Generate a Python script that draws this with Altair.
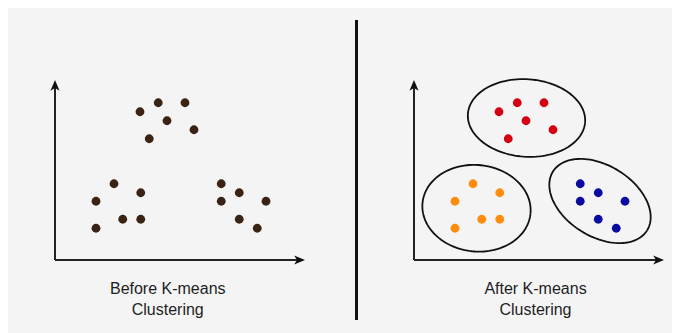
import altair as alt
import numpy as np
import pandas as pd

# ---- data (axis units: origin of each panel's axes at 0,0) ----
pt_x = [3.40, 4.13, 5.20, 4.48, 5.56, 3.77,
        2.36, 3.43, 1.64, 2.71, 3.43, 1.64,
        6.65, 7.37, 6.65, 8.44, 7.37, 8.09]
pt_y = [5.93, 6.29, 6.29, 5.57, 5.21, 4.85,
        3.05, 2.69, 2.35, 1.63, 1.63, 1.27,
        3.05, 2.69, 2.35, 2.35, 1.63, 1.27]
pt_cluster = ["top"] * 6 + ["left"] * 6 + ["right"] * 6

panels = ["before", "after"]
panel_offset = [0.0, 14.36]
panel_titles = ["Before K-means\nClustering", "After K-means\nClustering"]
title_x = [4.51, 4.86]
title_y = [-1.36, -1.36]

axis_x_len = 10.0
axis_y_len = 7.2

ell_cluster = ["top", "left", "right"]
ell_cx = [4.50, 2.50, 7.44]
ell_cy = [5.68, 2.07, 2.36]
ell_rx = [2.35, 2.17, 2.22]
ell_ry = [1.55, 1.73, 1.42]
ell_angle = [-4.0, -6.0, -32.0]

divider_x = 12.06
divider_y = [9.6, -2.4]

color_domain = ["before", "top", "left", "right"]
color_range = ["#3a2312", "#d40012", "#ff8c0c", "#0a0aa2"]

# ---- tables ----
rows = []
for p, off in zip(panels, panel_offset):
    for x, y, c in zip(pt_x, pt_y, pt_cluster):
        rows.append({"x": x + off, "y": y, "grp": "before" if p == "before" else c})
points = pd.DataFrame(rows)

axes_rows = []
heads = []
for off in panel_offset:
    axes_rows.append({"x": off, "y": 0.0, "x2": off + axis_x_len - 0.3, "y2": 0.0})
    axes_rows.append({"x": off, "y": 0.0, "x2": off, "y2": axis_y_len - 0.3})
    heads.append({"x": off + axis_x_len, "y": 0.0, "dir": "right"})
    heads.append({"x": off, "y": axis_y_len, "dir": "up"})
axes_df = pd.DataFrame(axes_rows)
heads_df = pd.DataFrame(heads)

t = np.linspace(0, 2 * np.pi, 121)
erows = []
off = panel_offset[1]
for c, cx, cy, rx, ry, ang in zip(ell_cluster, ell_cx, ell_cy, ell_rx, ell_ry, ell_angle):
    a = np.deg2rad(ang)
    for i, tt in enumerate(t):
        ex = rx * np.cos(tt)
        ey = ry * np.sin(tt)
        erows.append({"id": c, "i": i,
                      "x": off + cx + ex * np.cos(a) - ey * np.sin(a),
                      "y": cy + ex * np.sin(a) + ey * np.cos(a)})
ell_df = pd.DataFrame(erows)

titles_df = pd.DataFrame({"x": [tx + o for tx, o in zip(title_x, panel_offset)],
                          "y": title_y, "t": panel_titles})
div_df = pd.DataFrame({"x": [divider_x], "y": [divider_y[0]], "y2": [divider_y[1]]})

W, H = 664, 325
xs = alt.Scale(domain=[-1.88, 24.68], nice=False, zero=False)
ys = alt.Scale(domain=[-2.92, 10.08], nice=False, zero=False)
X = lambda f="x": alt.X(f"{f}:Q", scale=xs, axis=None)
Y = lambda f="y": alt.Y(f"{f}:Q", scale=ys, axis=None)

axes_layer = alt.Chart(axes_df).mark_rule(color="#222222", strokeWidth=2).encode(
    x=X(), y=Y(), x2="x2:Q", y2="y2:Q")

up_path = "M0,0 L0.8,1.9 L0,1.4 L-0.8,1.9 Z"
right_path = "M0,0 L-1.9,-0.8 L-1.4,0 L-1.9,0.8 Z"
heads_layer = alt.Chart(heads_df).mark_point(filled=True, size=130, color="#111111", opacity=1).encode(
    x=X(), y=Y(),
    shape=alt.Shape("dir:N", scale=alt.Scale(domain=["up", "right"], range=[up_path, right_path]), legend=None))

pts_layer = alt.Chart(points).mark_circle(size=78, opacity=1).encode(
    x=X(), y=Y(),
    color=alt.Color("grp:N", scale=alt.Scale(domain=color_domain, range=color_range), legend=None))

ell_layer = alt.Chart(ell_df).mark_line(color="#111111", strokeWidth=1.8).encode(
    x=X(), y=Y(), detail="id:N", order="i:Q")

div_layer = alt.Chart(div_df).mark_rule(color="#111111", strokeWidth=3).encode(
    x=X(), y=Y(), y2="y2:Q")

text_layer = alt.Chart(titles_df).mark_text(
    font="Liberation Sans", fontSize=16, color="#1e1e1e", align="center",
    baseline="alphabetic", lineBreak="\n", lineHeight=21).encode(
    x=X(), y=Y(), text="t:N")

chart = alt.layer(div_layer, axes_layer, heads_layer, ell_layer, pts_layer, text_layer).properties(
    width=W, height=H, background="#f4f4f4", padding=0,
    autosize=alt.AutoSizeParams(type="none")
).configure_view(stroke=None)

chart.save("out.html", embed_options={"renderer": "svg", "actions": False})
